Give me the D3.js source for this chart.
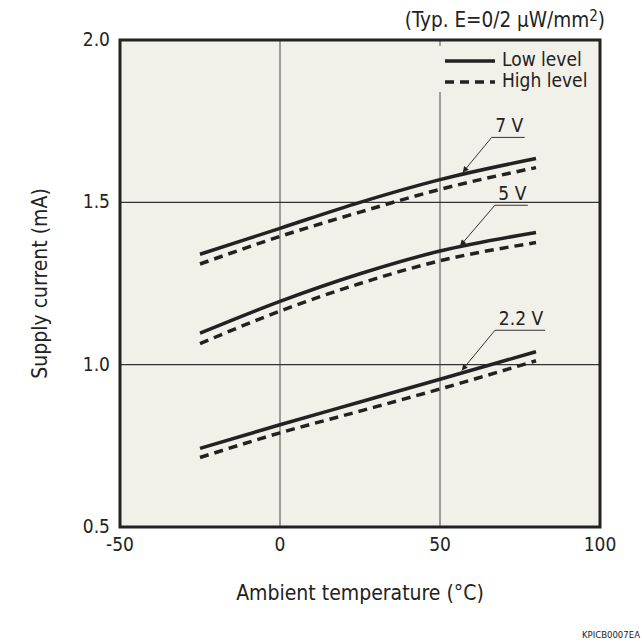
<!DOCTYPE html>
<html>
<head>
<meta charset="utf-8">
<script src="https://cdn.jsdelivr.net/npm/d3@7"></script>
<style>
  body { margin: 0; background: #fff; }
  text { font-family: "DejaVu Sans Condensed", "DejaVu Sans", sans-serif; fill: #222; }
</style>
</head>
<body>
<svg id="chart" width="642" height="644"></svg>
<script>
var temps = [-25, 0, 25, 50, 80];

// supply current (mA), low level = solid, high level = dashed
var low7  = [1.34, 1.42, 1.50, 1.57, 1.635];
var high7 = [1.31, 1.395, 1.47, 1.54, 1.607];
var low5  = [1.097, 1.195, 1.28, 1.35, 1.407];
var high5 = [1.065, 1.165, 1.25, 1.32, 1.376];
var low22  = [0.742, 0.815, 0.885, 0.955, 1.04];
var high22 = [0.714, 0.79, 0.857, 0.925, 1.012];

var xTicks = [-50, 0, 50, 100];
var yTicks = [0.5, 1.0, 1.5, 2.0];

// callouts: label, point where the arrow hits, underline centre
var callouts = [
    {label: "7 V",   tx: 57.1, ty: 1.592, lx: 71.3, ly: 1.70,  w: 33},
    {label: "5 V",   tx: 56.3, ty: 1.366, lx: 72.3, ly: 1.491, w: 33},
    {label: "2.2 V", tx: 56.8, ty: 0.982, lx: 75,   ly: 1.106, w: 50}
];

var margin = {left: 120, top: 40, right: 42, bottom: 117};
var width = 642 - margin.left - margin.right;
var height = 644 - margin.top - margin.bottom;

var x = d3.scaleLinear().domain([-50, 100]).range([0, width]);
var y = d3.scaleLinear().domain([0.5, 2.0]).range([height, 0]);

var svg = d3.select("#chart");

svg.append("defs").append("marker")
    .attr("id", "arrow")
    .attr("viewBox", "0 0 10 10")
    .attr("refX", 10)
    .attr("refY", 5)
    .attr("markerWidth", 9)
    .attr("markerHeight", 6)
    .attr("markerUnits", "userSpaceOnUse")
    .attr("orient", "auto")
    .append("path")
    .attr("d", "M0,0 L10,5 L0,10 z")
    .attr("fill", "#222");

var g = svg.append("g")
    .attr("transform", "translate(" + margin.left + "," + margin.top + ")");

g.append("rect")
    .attr("width", width)
    .attr("height", height)
    .attr("fill", "#f1f0e9");

// grid
g.selectAll("line.vgrid")
    .data([0, 50])
    .enter()
    .append("line")
    .attr("class", "vgrid")
    .attr("x1", function(d){ return x(d); })
    .attr("x2", function(d){ return x(d); })
    .attr("y1", 0)
    .attr("y2", height)
    .attr("stroke", "#666")
    .attr("stroke-width", 1.2);

g.selectAll("line.hgrid")
    .data([1.0, 1.5])
    .enter()
    .append("line")
    .attr("class", "hgrid")
    .attr("x1", 0)
    .attr("x2", width)
    .attr("y1", function(d){ return y(d); })
    .attr("y2", function(d){ return y(d); })
    .attr("stroke", "#333")
    .attr("stroke-width", 1.2);

// curves
var series = [
    {v: low7, dash: null}, {v: high7, dash: "9,6"},
    {v: low5, dash: null}, {v: high5, dash: "9,6"},
    {v: low22, dash: null}, {v: high22, dash: "9,6"}
];

var line = d3.line()
    .x(function(d){ return x(d[0]); })
    .y(function(d){ return y(d[1]); })
    .curve(d3.curveMonotoneX);

series.forEach(function(s){
    g.append("path")
        .datum(temps.map(function(t, i){ return [t, s.v[i]]; }))
        .attr("d", line)
        .attr("fill", "none")
        .attr("stroke", "#222")
        .attr("stroke-width", 3.5)
        .attr("stroke-dasharray", s.dash);
});

// callouts
callouts.forEach(function(c){
    var ux = x(c.lx) - c.w / 2;
    g.append("line")
        .attr("x1", ux + c.w)
        .attr("x2", ux)
        .attr("y1", y(c.ly))
        .attr("y2", y(c.ly))
        .attr("stroke", "#333")
        .attr("stroke-width", 1);
    g.append("line")
        .attr("x1", ux)
        .attr("y1", y(c.ly))
        .attr("x2", x(c.tx))
        .attr("y2", y(c.ty))
        .attr("stroke", "#333")
        .attr("stroke-width", 1)
        .attr("marker-end", "url(#arrow)");
    g.append("text")
        .attr("x", x(c.lx) + 1)
        .attr("y", y(c.ly) - 5)
        .attr("text-anchor", "middle")
        .style("font-size", "19px")
        .text(c.label);
});

// legend
var leg = g.append("g").attr("transform", "translate(" + (width - 162) + ",6)");
leg.append("rect")
    .attr("width", 160)
    .attr("height", 46)
    .attr("fill", "#f1f0e9");
[{t: "Low level", dash: null}, {t: "High level", dash: "9,6"}].forEach(function(d, i){
    leg.append("line")
        .attr("x1", 7)
        .attr("x2", 57)
        .attr("y1", 15 + i * 21)
        .attr("y2", 15 + i * 21)
        .attr("stroke", "#222")
        .attr("stroke-width", 3.5)
        .attr("stroke-dasharray", d.dash);
    leg.append("text")
        .attr("x", 64)
        .attr("y", 20 + i * 21)
        .style("font-size", "19px")
        .text(d.t);
});

// frame
g.append("rect")
    .attr("width", width)
    .attr("height", height)
    .attr("fill", "none")
    .attr("stroke", "#222")
    .attr("stroke-width", 3);

// tick labels
g.selectAll("text.xt")
    .data(xTicks)
    .enter()
    .append("text")
    .attr("class", "xt")
    .attr("x", function(d){ return x(d); })
    .attr("y", height + 24)
    .attr("text-anchor", "middle")
    .style("font-size", "19px")
    .text(function(d){ return d; });

g.selectAll("text.yt")
    .data(yTicks)
    .enter()
    .append("text")
    .attr("class", "yt")
    .attr("x", -10)
    .attr("y", function(d){ return y(d) + 6; })
    .attr("text-anchor", "end")
    .style("font-size", "19px")
    .text(function(d){ return d.toFixed(1); });

// titles
g.append("text")
    .attr("x", width / 2)
    .attr("y", height + 73)
    .attr("text-anchor", "middle")
    .style("font-size", "21px")
    .text("Ambient temperature (°C)");

g.append("text")
    .attr("transform", "translate(-73," + (height / 2) + ") rotate(-90)")
    .attr("text-anchor", "middle")
    .style("font-size", "21px")
    .text("Supply current (mA)");

var cond = g.append("text")
    .attr("x", width + 5)
    .attr("y", -13)
    .attr("text-anchor", "end")
    .style("font-size", "20.5px");
cond.append("tspan").text("(Typ. E=0/2 µW/mm");
cond.append("tspan").attr("dy", -6).style("font-size", "15px").text("2");
cond.append("tspan").attr("dy", 6).text(")");

svg.append("text")
    .attr("x", 640)
    .attr("y", 638)
    .attr("text-anchor", "end")
    .style("font-size", "9.5px")
    .style("font-family", "'Liberation Sans Narrow', 'DejaVu Sans Condensed', sans-serif")
    .text("KPICB0007EA");
</script>
</body>
</html>
